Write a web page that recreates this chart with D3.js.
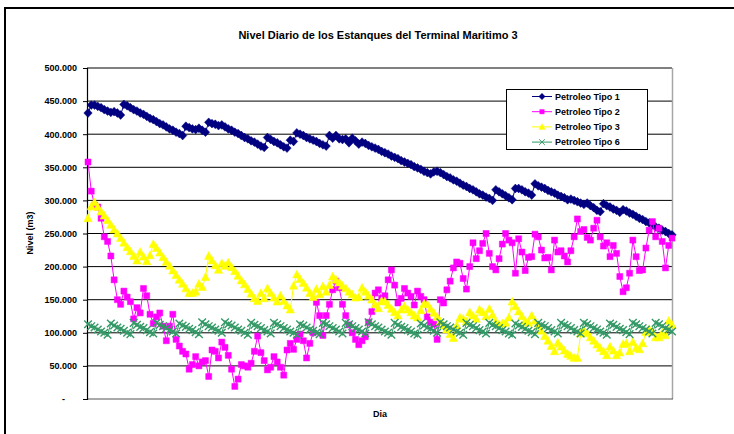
<!DOCTYPE html>
<html>
<head>
<meta charset="utf-8">
<script src="https://cdn.jsdelivr.net/npm/d3@7"></script>
<style>
  body { margin: 0; background: #fff; }
  svg { display: block; }
  text { font-family: Arial, "Liberation Sans", sans-serif; font-weight: bold; fill: #000; }
</style>
</head>
<body>
<svg id="chart" width="734" height="434"></svg>
<script>
// nivel diario (miles de m3), lectura aproximada del grafico
const tipo1 = [432,444,444,442,440,437,435,433,434,432,429,445,443,440,437,435,432,430,427,424,
  422,419,416,414,411,408,406,403,401,398,412,410,408,407,409,406,403,418,416,415,
  413,414,411,408,406,403,401,398,395,393,390,388,385,382,380,395,392,389,387,384,
  381,379,391,389,402,400,398,395,393,391,389,386,384,382,398,394,398,393,392,393,
  387,394,390,385,388,386,383,381,379,377,374,372,370,367,365,363,360,358,356,354,
  351,349,347,344,342,340,343,344,342,339,336,334,331,329,326,323,321,318,316,313,
  310,308,305,303,300,316,313,310,307,304,301,318,318,316,313,311,308,325,322,320,
  318,315,313,311,308,306,304,301,302,300,298,296,294,296,292,289,285,283,295,292,
  290,287,285,282,286,284,281,279,276,273,271,268,266,263,260,258,255,253,250,248];

const tipo2 = [358,314,293,290,273,245,238,216,180,150,143,163,154,147,121,138,130,167,156,128,
  114,124,130,110,88,110,128,90,80,72,68,45,52,64,50,56,58,34,74,72,
  62,86,78,66,45,19,30,52,50,48,54,72,95,70,58,44,48,64,56,48,
  36,74,84,75,90,98,88,62,84,100,146,126,96,126,143,165,178,168,143,126,
  112,100,90,82,88,94,116,132,160,165,152,156,180,195,172,145,152,167,160,155,
  142,163,155,150,124,116,113,90,150,145,165,178,198,207,205,182,166,200,236,212,
  224,235,250,220,200,195,212,234,250,240,236,190,242,222,194,214,215,249,245,225,
  213,214,195,240,222,224,216,207,224,245,272,253,256,244,240,258,270,245,231,236,
  215,232,220,185,162,168,190,240,215,194,195,228,255,268,245,258,238,198,232,243];

const tipo3 = [273,291,297,290,283,277,270,263,256,250,243,236,229,223,216,209,222,215,208,217,
  234,228,221,214,207,201,194,187,180,174,167,160,160,162,174,169,184,216,209,202,
  195,205,201,206,199,193,186,179,173,166,159,152,148,160,152,167,160,153,147,156,
  148,141,135,171,188,181,175,168,160,154,166,158,170,162,172,185,180,176,171,167,
  162,158,153,154,168,162,156,150,143,137,148,147,142,136,131,126,135,140,135,131,
  126,123,134,144,143,136,130,124,117,111,105,98,92,111,123,121,117,131,126,121,
  135,131,125,136,127,116,113,114,115,123,147,140,132,125,118,115,126,118,110,103,
  95,88,80,72,85,79,73,68,65,62,62,99,104,99,93,88,82,77,72,66,
  79,73,66,70,83,84,72,86,77,75,84,101,105,101,93,93,100,96,118,112];

const tipo6 = [113,110,108,105,102,100,97,114,111,108,106,103,100,98,115,112,109,107,104,101,
  99,115,112,110,107,104,102,99,114,111,109,106,104,101,98,116,113,110,108,105,
  103,100,116,113,111,108,105,103,100,97,115,112,110,107,104,102,99,115,113,110,
  107,105,102,100,97,113,111,108,105,103,100,98,115,113,110,107,105,102,99,115,
  113,110,107,105,102,99,116,113,110,108,105,102,100,97,115,112,109,107,104,102,
  99,97,114,111,108,106,103,100,116,113,110,108,105,102,100,97,115,112,110,107,
  104,102,99,115,112,110,107,104,102,99,97,114,111,109,106,103,101,98,115,112,
  110,107,104,102,99,115,112,110,107,104,102,99,115,113,110,107,105,102,100,97,
  114,112,109,106,104,101,98,115,113,110,107,105,102,99,115,113,110,107,105,102];

const seriesNames = ["Petroleo Tipo 1", "Petroleo Tipo 2", "Petroleo Tipo 3", "Petroleo Tipo 6"];
const yTicks = [0, 50, 100, 150, 200, 250, 300, 350, 400, 450, 500];
const yTickLabels = ["-", "50.000", "100.000", "150.000", "200.000", "250.000",
  "300.000", "350.000", "400.000", "450.000", "500.000"];

const svg = d3.select("#chart");
const plotLeft = 87, plotRight = 672, plotTop = 68, plotBottom = 399;

const series = [
  { name: seriesNames[0], values: tipo1, color: "#000080", marker: "diamond" },
  { name: seriesNames[1], values: tipo2, color: "#ff00ff", marker: "square" },
  { name: seriesNames[2], values: tipo3, color: "#ffff00", marker: "triangle" },
  { name: seriesNames[3], values: tipo6, color: "#339966", marker: "x" }
];

const dias = d3.range(tipo1.length);
const x = d3.scaleLinear().domain([0, dias.length - 1]).range([plotLeft + 1, plotRight]);
const y = d3.scaleLinear().domain([0, 500]).range([plotBottom, plotTop]);

function markerPath(type) {
  if (type === "diamond") return "M0,-4.4L4.2,0L0,4.4L-4.2,0Z";
  if (type === "square") return "M-3,-3h6v6h-6Z";
  if (type === "triangle") return "M0,-4.4L4.2,3.4L-4.2,3.4Z";
  return "M-3.8,-3.8L3.8,3.8M3.8,-3.8L-3.8,3.8";
}

// marco exterior
svg.append("rect")
  .attr("x", 5).attr("y", 8).attr("width", 780).attr("height", 480)
  .attr("fill", "none").attr("stroke", "#000").attr("stroke-width", 2);

// titulo
svg.append("text")
  .attr("x", 378).attr("y", 39)
  .attr("text-anchor", "middle")
  .style("font-size", "11px")
  .text("Nivel Diario de los Estanques del Terminal Maritimo 3");

// lineas de grilla
svg.append("g")
  .selectAll("line")
  .data(yTicks.slice(1))
  .join("line")
  .attr("x1", plotLeft).attr("x2", plotRight)
  .attr("y1", d => y(d)).attr("y2", d => y(d))
  .attr("stroke", "#000").attr("stroke-width", 1);

// borde derecho del area de trazado
svg.append("line")
  .attr("x1", plotRight + 0.5).attr("x2", plotRight + 0.5)
  .attr("y1", plotTop).attr("y2", plotBottom)
  .attr("stroke", "#a6a6a6").attr("stroke-width", 1.5);

// eje x
svg.append("line")
  .attr("x1", plotLeft).attr("x2", plotRight + 1)
  .attr("y1", plotBottom).attr("y2", plotBottom)
  .attr("stroke", "#555").attr("stroke-width", 1.2);

// eje y
const yAxis = svg.append("g")
  .attr("transform", `translate(${plotLeft},0)`)
  .call(d3.axisLeft(y).tickValues(yTicks).tickSize(4).tickPadding(6)
    .tickFormat((d, i) => yTickLabels[i]));
yAxis.select(".domain").attr("stroke", "#000").attr("stroke-width", 1.2);
yAxis.selectAll(".tick line").attr("stroke", "#000");
yAxis.selectAll(".tick text")
  .style("font-size", "9px")
  .style("font-family", "Arial, 'Liberation Sans', sans-serif")
  .style("font-weight", "bold")
  .attr("dx", (d, i) => i === 0 ? -12 : 0);

// series
series.forEach(s => {
  const g = svg.append("g");
  g.append("path")
    .datum(s.values)
    .attr("fill", "none")
    .attr("stroke", s.color)
    .attr("stroke-width", 1)
    .attr("d", d3.line().x((d, i) => x(i)).y(d => y(d)));
  g.selectAll("path.m")
    .data(s.values)
    .join("path")
    .attr("class", "m")
    .attr("transform", (d, i) => `translate(${x(i)},${y(d)})`)
    .attr("d", markerPath(s.marker))
    .attr("fill", s.marker === "x" ? "none" : s.color)
    .attr("stroke", s.color)
    .attr("stroke-width", s.marker === "x" ? 1.4 : 0.5);
});

// titulos de ejes
svg.append("text")
  .attr("transform", "translate(33,233) rotate(-90)")
  .attr("text-anchor", "middle")
  .style("font-size", "9px")
  .text("Nivel (m3)");

svg.append("text")
  .attr("x", 380).attr("y", 417)
  .attr("text-anchor", "middle")
  .style("font-size", "9px")
  .text("Dia");

// leyenda
const legend = svg.append("g");
legend.append("rect")
  .attr("x", 506.5).attr("y", 89.5).attr("width", 141).attr("height", 60)
  .attr("fill", "#fff").attr("stroke", "#000").attr("stroke-width", 1);
const item = legend.selectAll("g.item")
  .data(series)
  .join("g")
  .attr("class", "item")
  .attr("transform", (d, i) => `translate(0,${96.5 + i * 15.2})`);
item.append("line")
  .attr("x1", 532).attr("x2", 552)
  .attr("stroke", d => d.color).attr("stroke-width", 1);
item.append("path")
  .attr("transform", "translate(542,0) scale(0.75)")
  .attr("d", d => markerPath(d.marker))
  .attr("fill", d => d.marker === "x" ? "none" : d.color)
  .attr("stroke", d => d.color)
  .attr("stroke-width", d => d.marker === "x" ? 1.3 : 0.5);
item.append("text")
  .attr("x", 555).attr("dy", "0.35em")
  .style("font-size", "9px")
  .text(d => d.name);
</script>
</body>
</html>
